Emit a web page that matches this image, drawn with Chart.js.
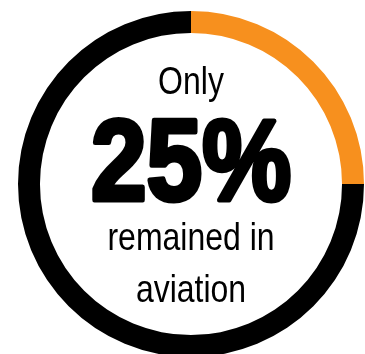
<!DOCTYPE html>
<html>
<head>
<meta charset="utf-8">
<script src="https://cdn.jsdelivr.net/npm/chart.js@4"></script>
<style>
  html, body { margin: 0; padding: 0; background: #fff; }
  body { width: 365px; height: 354px; position: relative; overflow: hidden; }
  #ring { position: absolute; left: 18px; top: 11px; }
</style>
</head>
<body>
<canvas id="ring" width="346" height="346"></canvas>
<script>
const labels = ["Remained in aviation", "Left aviation"];
const values = [25, 75];
const colors = ["#F7901E", "#000000"];

const headline = "Only";
const figure = values[0] + "%";
const tail = ["remained in", "aviation"];

// squeeze text horizontally to get a condensed look
function condensed(ctx, text, x, y, sx, stroke) {
  ctx.save();
  ctx.scale(sx, 1);
  if (stroke) ctx.strokeText(text, x / sx, y);
  ctx.fillText(text, x / sx, y);
  ctx.restore();
}

/* CENTER TEXT */
const centerText = {
  id: "centerText",
  afterDraw(chart) {
    const arc = chart.getDatasetMeta(0).data[0];
    const cx = arc.x, cy = arc.y;
    const ctx = chart.ctx;
    ctx.save();
    ctx.fillStyle = "#000";
    ctx.textAlign = "center";
    ctx.textBaseline = "alphabetic";

    ctx.font = "39px 'Liberation Sans', Arial, sans-serif";
    condensed(ctx, headline, cx, cy - 90, 0.82);
    condensed(ctx, tail[0], cx, cy + 66, 0.82);
    condensed(ctx, tail[1], cx, cy + 118, 0.82);

    ctx.font = "bold 115px 'Liberation Sans', Arial, sans-serif";
    ctx.strokeStyle = "#000";
    ctx.lineWidth = 5;
    ctx.lineJoin = "round";
    condensed(ctx, figure, cx, cy + 16, 0.87, true);
    ctx.restore();
  }
};

new Chart(document.getElementById("ring"), {
  type: "doughnut",
  data: {
    labels: labels,
    datasets: [{
      data: values,
      backgroundColor: colors,
      borderWidth: 0
    }]
  },
  options: {
    responsive: false,
    animation: false,
    cutout: "87.3%",
    rotation: 0,
    plugins: {
      legend: { display: false },
      tooltip: { enabled: false }
    }
  },
  plugins: [centerText]
});
</script>
</body>
</html>
